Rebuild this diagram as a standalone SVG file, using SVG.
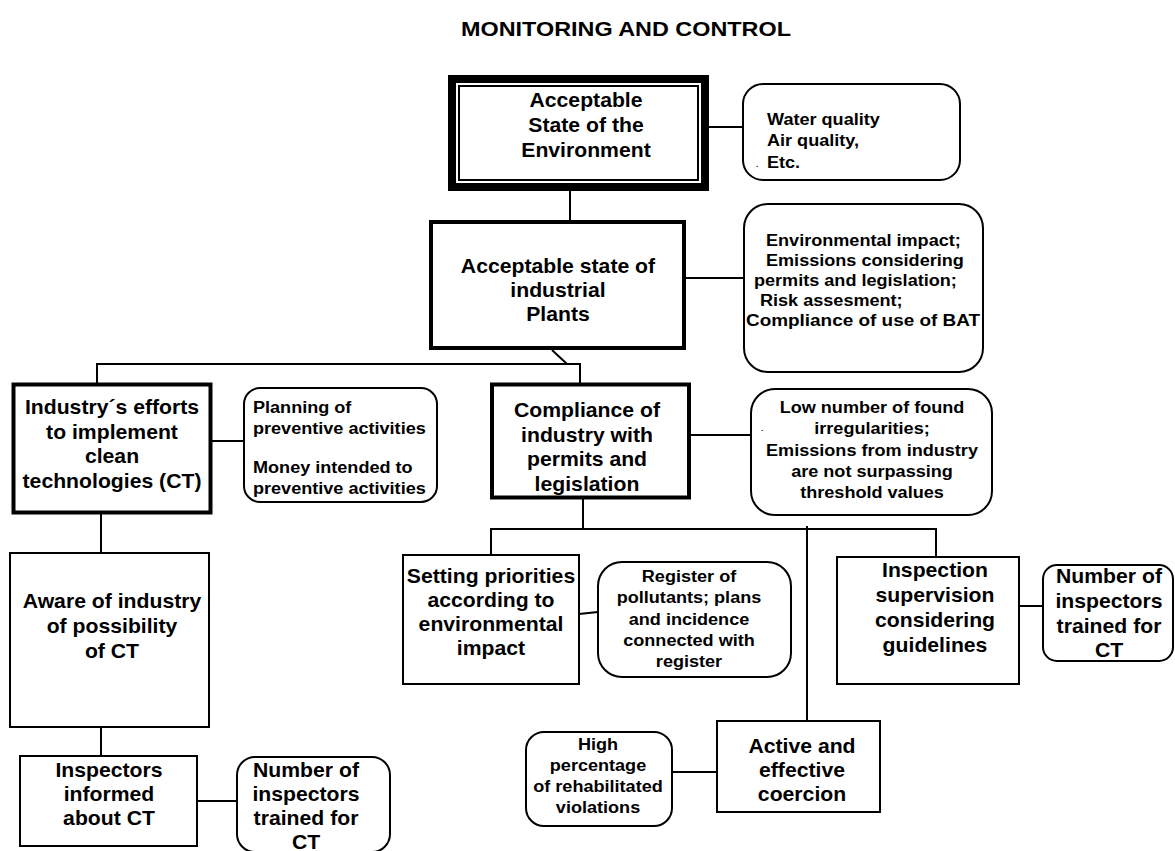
<svg xmlns="http://www.w3.org/2000/svg" width="1175" height="851" viewBox="0 0 1175 851">
  <style>
    .box { fill: #fff; stroke: #000; stroke-width: 2; }
    .thick { stroke-width: 4; }
    .lnk { stroke: #000; stroke-width: 2; fill: none; }
    text { font-family: "Liberation Sans", Arial, sans-serif; font-weight: bold; fill: #000; }
    .m { font-size: 20px; text-anchor: middle; }
    .s { font-size: 16px; text-anchor: middle; }
    .sl { font-size: 16px; text-anchor: start; }
    .t { font-size: 20px; text-anchor: middle; }
  </style>
  <rect width="1175" height="851" fill="#fff"/>

  <!-- heading -->
  <g id="title" transform="translate(626 0) scale(1.17 1)">
    <text class="t" x="0" y="36">MONITORING AND CONTROL</text>
  </g>

  <!-- connectors -->
  <g id="connectors">
    <line class="lnk" x1="709" y1="127" x2="743" y2="127"/>
    <line class="lnk" x1="570" y1="191" x2="570" y2="221"/>
    <line class="lnk" x1="685" y1="278" x2="744" y2="278"/>
    <line class="lnk" x1="552" y1="350" x2="567" y2="364"/>
    <polyline class="lnk" points="97,383 97,364 580,364 580,383"/>
    <line class="lnk" x1="212" y1="441" x2="244" y2="441"/>
    <line class="lnk" x1="691" y1="435" x2="751" y2="435"/>
    <line class="lnk" x1="583" y1="499" x2="583" y2="529"/>
    <polyline class="lnk" points="491,555 491,529 936,529 936,557"/>
    <line class="lnk" x1="807" y1="526" x2="807" y2="721"/>
    <line class="lnk" x1="579" y1="614" x2="598" y2="612"/>
    <line class="lnk" x1="1019" y1="606" x2="1043" y2="606"/>
    <line class="lnk" x1="717" y1="772" x2="672" y2="772"/>
    <line class="lnk" x1="101" y1="514" x2="101" y2="553"/>
    <line class="lnk" x1="101" y1="727" x2="101" y2="756"/>
    <line class="lnk" x1="197" y1="801" x2="237" y2="801"/>
  </g>

  <!-- top goal, double frame -->
  <g id="state-environment">
    <rect x="452" y="79" width="253" height="108" fill="#fff" stroke="#000" stroke-width="8"/>
    <rect x="459" y="86" width="239" height="94" fill="none" stroke="#000" stroke-width="2"/>
    <g transform="translate(586 0) scale(1.06 1)">
      <text class="m" x="0" y="107">Acceptable</text>
      <text class="m" x="0" y="132">State of the</text>
      <text class="m" x="0" y="157">Environment</text>
    </g>
  </g>

  <g id="env-indicators">
    <rect class="box" x="743" y="84" width="217" height="96" rx="20"/>
    <g transform="translate(767 0) scale(1.13 1)">
      <text class="sl" x="0" y="125">Water quality</text>
      <text class="sl" x="0" y="146">Air quality,</text>
      <text class="sl" x="0" y="168">Etc.</text>
    </g>
    <text x="756" y="167" style="font-size:8px">.</text>
  </g>

  <g id="state-plants">
    <rect class="box thick" x="431" y="222" width="253" height="126"/>
    <g transform="translate(558 0) scale(1.06 1)">
      <text class="m" x="0" y="273">Acceptable state of</text>
      <text class="m" x="0" y="297">industrial</text>
      <text class="m" x="0" y="321">Plants</text>
    </g>
  </g>

  <g id="plant-indicators">
    <rect class="box" x="744" y="204" width="239" height="168" rx="24"/>
    <g transform="translate(766 0) scale(1.13 1)">
      <text class="sl" x="0" y="246">Environmental impact;</text>
      <text class="sl" x="0" y="266">Emissions considering</text>
    </g>
    <g transform="translate(754 0) scale(1.13 1)">
      <text class="sl" x="0" y="286">permits and legislation;</text>
    </g>
    <g transform="translate(760 0) scale(1.13 1)">
      <text class="sl" x="0" y="306">Risk assesment;</text>
    </g>
    <text class="sl" x="746" y="326" textLength="234" lengthAdjust="spacingAndGlyphs">Compliance of use of BAT</text>
  </g>

  <g id="industry-efforts">
    <rect class="box thick" x="13.5" y="384.5" width="197" height="128"/>
    <g transform="translate(112 0) scale(1.06 1)">
      <text class="m" x="0" y="414">Industry´s efforts</text>
      <text class="m" x="0" y="439">to implement</text>
      <text class="m" x="0" y="463">clean</text>
      <text class="m" x="0" y="488">technologies (CT)</text>
    </g>
  </g>

  <g id="preventive">
    <rect class="box" x="244" y="388" width="193" height="114" rx="16"/>
    <g transform="translate(253 0) scale(1.13 1)">
      <text class="sl" x="0" y="413">Planning of</text>
      <text class="sl" x="0" y="434">preventive activities</text>
      <text class="sl" x="0" y="473">Money intended to</text>
      <text class="sl" x="0" y="494">preventive activities</text>
    </g>
  </g>

  <g id="compliance">
    <rect class="box thick" x="492" y="384.5" width="197" height="113"/>
    <g transform="translate(587 0) scale(1.06 1)">
      <text class="m" x="0" y="417">Compliance of</text>
      <text class="m" x="0" y="442">industry with</text>
      <text class="m" x="0" y="466">permits and</text>
      <text class="m" x="0" y="491">legislation</text>
    </g>
  </g>

  <g id="compliance-indicators">
    <rect class="box" x="751" y="389" width="241" height="126" rx="24"/>
    <text x="761" y="431" style="font-size:8px">.</text>
    <g transform="translate(872 0) scale(1.13 1)">
      <text class="s" x="0" y="413">Low number of found</text>
      <text class="s" x="0" y="434">irregularities;</text>
      <text class="s" x="0" y="456">Emissions from industry</text>
      <text class="s" x="0" y="477">are not surpassing</text>
      <text class="s" x="0" y="498">threshold values</text>
    </g>
  </g>

  <g id="priorities">
    <rect class="box" x="403" y="555" width="176" height="129"/>
    <g transform="translate(491 0) scale(1.06 1)">
      <text class="m" x="0" y="583">Setting priorities</text>
      <text class="m" x="0" y="607">according to</text>
      <text class="m" x="0" y="631">environmental</text>
      <text class="m" x="0" y="655">impact</text>
    </g>
  </g>

  <g id="register">
    <rect class="box" x="598" y="562" width="193" height="115" rx="24"/>
    <g transform="translate(689 0) scale(1.13 1)">
      <text class="s" x="0" y="582">Register of</text>
      <text class="s" x="0" y="603">pollutants; plans</text>
      <text class="s" x="0" y="625">and incidence</text>
      <text class="s" x="0" y="646">connected with</text>
      <text class="s" x="0" y="667">register</text>
    </g>
  </g>

  <g id="inspection">
    <rect class="box" x="837" y="557" width="182" height="127"/>
    <g transform="translate(935 0) scale(1.06 1)">
      <text class="m" x="0" y="577">Inspection</text>
      <text class="m" x="0" y="602">supervision</text>
      <text class="m" x="0" y="627">considering</text>
      <text class="m" x="0" y="652">guidelines</text>
    </g>
  </g>

  <g id="trained-right">
    <rect class="box" x="1043" y="565" width="130" height="96" rx="14"/>
    <g transform="translate(1109 0) scale(1.06 1)">
      <text class="m" x="0" y="583">Number of</text>
      <text class="m" x="0" y="608">inspectors</text>
      <text class="m" x="0" y="633">trained for</text>
      <text class="m" x="0" y="657">CT</text>
    </g>
  </g>

  <g id="coercion">
    <rect class="box" x="717" y="721" width="163" height="91"/>
    <g transform="translate(802 0) scale(1.06 1)">
      <text class="m" x="0" y="753">Active and</text>
      <text class="m" x="0" y="777">effective</text>
      <text class="m" x="0" y="801">coercion</text>
    </g>
  </g>

  <g id="rehabilitated">
    <rect class="box" x="526" y="732" width="146" height="94" rx="18"/>
    <g transform="translate(598 0) scale(1.13 1)">
      <text class="s" x="0" y="750">High</text>
      <text class="s" x="0" y="771">percentage</text>
      <text class="s" x="0" y="792">of rehabilitated</text>
      <text class="s" x="0" y="813">violations</text>
    </g>
  </g>

  <g id="awareness">
    <rect class="box" x="10" y="553" width="199" height="174"/>
    <g transform="translate(112 0) scale(1.06 1)">
      <text class="m" x="0" y="608">Aware of industry</text>
      <text class="m" x="0" y="633">of possibility</text>
      <text class="m" x="0" y="658">of CT</text>
    </g>
  </g>

  <g id="inspectors-informed">
    <rect class="box" x="20" y="756" width="177" height="90"/>
    <g transform="translate(109 0) scale(1.06 1)">
      <text class="m" x="0" y="777">Inspectors</text>
      <text class="m" x="0" y="801">informed</text>
      <text class="m" x="0" y="825">about CT</text>
    </g>
  </g>

  <g id="trained-left">
    <rect class="box" x="237" y="757" width="153" height="95" rx="18"/>
    <g transform="translate(306 0) scale(1.06 1)">
      <text class="m" x="0" y="777">Number of</text>
      <text class="m" x="0" y="801">inspectors</text>
      <text class="m" x="0" y="825">trained for</text>
      <text class="m" x="0" y="849">CT</text>
    </g>
  </g>
</svg>
